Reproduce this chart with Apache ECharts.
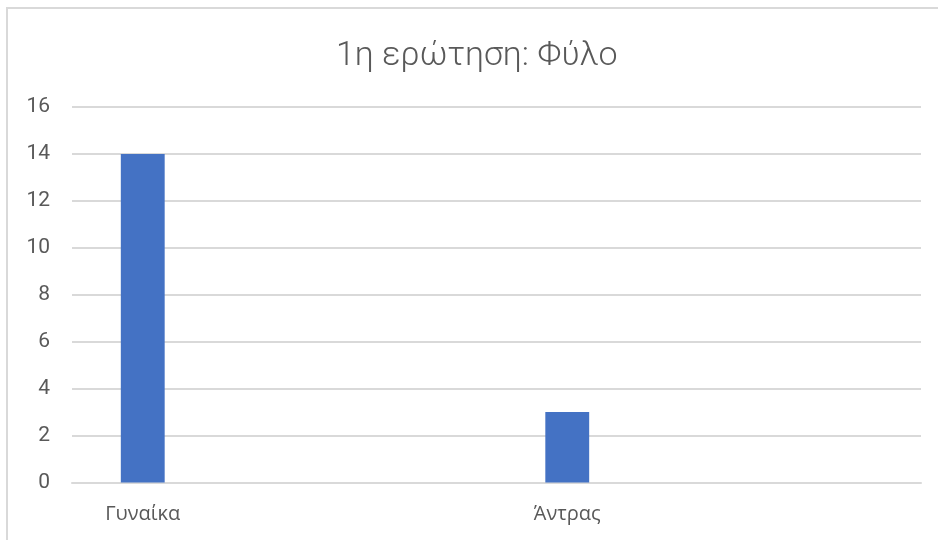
<!DOCTYPE html>
<html>
<head>
<meta charset="utf-8">
<script src="https://cdn.jsdelivr.net/npm/echarts@6/dist/echarts.min.js"></script>
<style>
  html, body { margin: 0; padding: 0; background: #ffffff; }
  #chart { width: 938px; height: 540px; }
</style>
</head>
<body>
<div id="chart"></div>
<script>
// Survey question 1: gender of respondents
const chartTitle = '1η ερώτηση: Φύλο';
const categories = ['Γυναίκα', '', '', 'Άντρας', '', ''];
const counts = [14, null, null, 3, null, null];
const yTicks = { min: 0, max: 16, step: 2 };

const chart = echarts.init(document.getElementById('chart'), null, { renderer: 'canvas' });

chart.setOption({
  backgroundColor: '#ffffff',
  animation: false,
  title: {
    text: chartTitle,
    left: 336,
    top: 34,
    padding: [5, 0, 5, 0],
    textStyle: {
      fontFamily: 'Roboto',
      fontWeight: 300,
      fontSize: 34,
      color: '#595959'
    }
  },
  graphic: [{
    type: 'rect',
    shape: { x: 7, y: 8, width: 1000, height: 600 },
    style: { fill: 'none', stroke: '#d9d9d9', lineWidth: 2 },
    silent: true
  }],
  grid: {
    left: 72,
    right: 17,
    top: 107,
    bottom: 57.5,
    containLabel: false
  },
  xAxis: {
    type: 'category',
    data: categories,
    axisLine: { show: true, lineStyle: { color: '#d9d9d9', width: 2 } },
    axisTick: { show: false },
    axisLabel: {
      interval: 0,
      margin: 22,
      fontFamily: 'Open Sans',
      fontSize: 20,
      color: '#595959'
    }
  },
  yAxis: {
    type: 'value',
    min: yTicks.min,
    max: yTicks.max,
    interval: yTicks.step,
    axisLine: { show: false },
    axisTick: { show: false },
    splitLine: { lineStyle: { color: '#d9d9d9', width: 2 } },
    axisLabel: {
      margin: 22,
      fontFamily: 'Roboto',
      fontSize: 21,
      color: '#595959'
    }
  },
  series: [{
    type: 'bar',
    data: counts,
    barWidth: '31%',
    itemStyle: { color: '#4472c4' }
  }]
});
</script>
</body>
</html>
